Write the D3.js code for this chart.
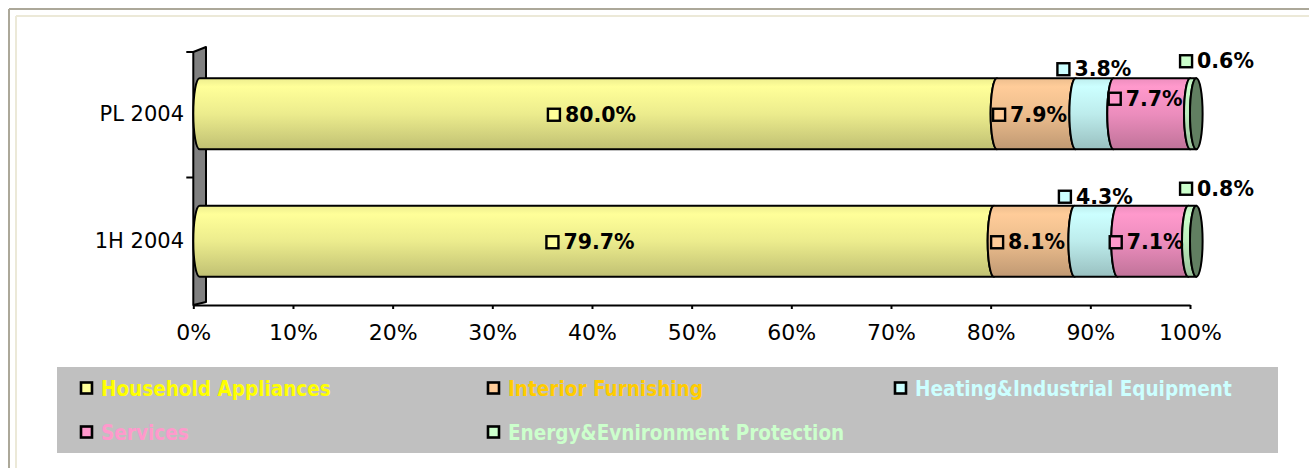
<!DOCTYPE html>
<html><head><meta charset="utf-8">
<script src="https://cdn.jsdelivr.net/npm/d3@7"></script>
<style>
html,body{margin:0;padding:0;background:#fff;}
svg{display:block;}
</style></head>
<body>
<svg id="chart" width="1309" height="468"></svg>
<script>
// ---- data ----
const categories = ["PL 2004", "1H 2004"];
const seriesNames = ["Household Appliances", "Interior Furnishing", "Heating&Industrial Equipment", "Services", "Energy&Evnironment Protection"];
const household = [80.0, 79.7];
const interior = [7.9, 8.1];
const heating = [3.8, 4.3];
const services = [7.7, 7.1];
const energy = [0.6, 0.8];
const xTicks = [0, 10, 20, 30, 40, 50, 60, 70, 80, 90, 100];
const seriesColors = ["#FFFF99", "#FFCC99", "#CCFFFF", "#FF99CC", "#CCFFCC"];
const legendTextColors = ["#FFFF00", "#FFCC00", "#CCFFFF", "#FF99CC", "#CCFFCC"];

const seriesValues = [household, interior, heating, services, energy];

const svg = d3.select("#chart");
const defs = svg.append("defs");

// frame
svg.append("line").attr("x1", 9).attr("y1", 9).attr("x2", 1309).attr("y2", 9).attr("stroke", "#ACA899").attr("stroke-width", 2);
svg.append("line").attr("x1", 9).attr("y1", 9).attr("x2", 9).attr("y2", 468).attr("stroke", "#ACA899").attr("stroke-width", 2);
svg.append("line").attr("x1", 16).attr("y1", 16).attr("x2", 1309).attr("y2", 16).attr("stroke", "#ECE9D8").attr("stroke-width", 2);
svg.append("line").attr("x1", 16).attr("y1", 16).attr("x2", 16).attr("y2", 468).attr("stroke", "#ECE9D8").attr("stroke-width", 2);

const x = d3.scaleLinear().domain([0, 100]).range([193.3, 1190]);
const y = d3.scaleBand().domain(categories).range([50, 305]).paddingInner(0.443).paddingOuter(0.2215);

// gradients
seriesColors.forEach((c, i) => {
  const g = defs.append("linearGradient").attr("id", "grad" + i)
    .attr("x1", 0).attr("y1", 0).attr("x2", 0).attr("y2", 1);
  const col = d3.color(c);
  [[0, col.darker(0.2)], [0.12, col], [0.5, col.darker(0.22)], [1, col.darker(0.8)]].forEach(([o, cc]) => {
    g.append("stop").attr("offset", o).attr("stop-color", cc.formatHex());
  });
});

// wall
const wallTop = 52, wallBot = 305, depth = 12.7;
svg.append("path")
  .attr("d", `M${x(0)},${wallTop} L${x(0)+depth},${wallTop-5} L${x(0)+depth},${wallBot-3} L${x(0)},${wallBot} Z`)
  .attr("fill", "#808080").attr("stroke", "#000").attr("stroke-width", 2).attr("stroke-linejoin", "round");

// y ticks at band boundaries
const boundaries = [wallTop, (y(categories[0]) + y.bandwidth() + y(categories[1])) / 2];
boundaries.forEach(b => {
  svg.append("line").attr("x1", x(0) - 7).attr("x2", x(0)).attr("y1", b).attr("y2", b)
    .attr("stroke", "#000").attr("stroke-width", 2);
});

// x axis
const xAxis = d3.axisBottom(x).tickValues(xTicks).tickFormat(d => d + "%").tickSizeInner(4).tickSizeOuter(0);
const gx = svg.append("g").attr("transform", `translate(0,${wallBot})`).call(xAxis);
gx.select(".domain").attr("stroke", "#000").attr("stroke-width", 2);
gx.selectAll(".tick line").attr("stroke", "#000").attr("stroke-width", 2);
gx.selectAll(".tick text").attr("font-family", "DejaVu Sans, Verdana, sans-serif").attr("font-size", 22)
  .attr("fill", "#000").attr("dy", 0).attr("y", 35);

// y labels
svg.selectAll(".ylab").data(categories).enter().append("text")
  .attr("x", 184).attr("y", d => y(d) + y.bandwidth() / 2)
  .attr("text-anchor", "end").attr("dominant-baseline", "central")
  .attr("font-family", "DejaVu Sans, Verdana, sans-serif").attr("font-size", 21).attr("fill", "#000")
  .text(d => d);

// bars
const r = 6.3;
const labelFont = "DejaVu Sans, Verdana, sans-serif";
categories.forEach((cat, ci) => {
  const top = y(cat), h = y.bandwidth(), bot = top + h, mid = top + h / 2, ry = h / 2;
  let cum = 0;
  const segs = seriesValues.map((vals, si) => {
    const v = vals[ci];
    const s = { si, v, a: cum, b: cum + v };
    cum += v;
    return s;
  });
  const g = svg.append("g");
  segs.forEach(s => {
    const a = x(s.a), b = x(s.b);
    const d = `M${a + r},${top} L${b + r},${top} A${r},${ry} 0 0 0 ${b + r},${bot} L${a + r},${bot} A${r},${ry} 0 0 1 ${a + r},${top} Z`;
    g.append("path").attr("d", d).attr("fill", `url(#grad${s.si})`)
      .attr("stroke", "#000").attr("stroke-width", 2).attr("stroke-linejoin", "round");
  });
  // end cap
  g.append("ellipse").attr("cx", x(cum) + r).attr("cy", mid).attr("rx", r).attr("ry", ry)
    .attr("fill", "#617F61").attr("stroke", "#000").attr("stroke-width", 2);

  // labels
  segs.forEach(s => {
    let cx = (x(s.a) + x(s.b)) / 2, cy = mid;
    if (s.si === 2) { cx += 6; cy = top - 10; }
    if (s.si === 4) { cx = x(100) + 27; cy = top - 18; }
    if (s.si === 3 && ci === 0) { cy = mid - 16; }
    const lg = svg.append("g");
    const t = lg.append("text").attr("font-family", labelFont).attr("font-weight", "bold").attr("font-size", 20.5)
      .attr("fill", "#000").attr("dominant-baseline", "central").text(d3.format(".1f")(s.v) + "%");
    const tw = t.node().getComputedTextLength();
    const sq = 12, gap = 5, total = sq + gap + tw;
    const x0 = cx - total / 2;
    lg.append("rect").attr("x", x0).attr("y", cy - sq / 2 + 1).attr("width", sq).attr("height", sq)
      .attr("fill", seriesColors[s.si]).attr("stroke", "#000").attr("stroke-width", 2.4);
    t.attr("x", x0 + sq + gap).attr("y", cy + 1);
  });
});

// legend
svg.append("rect").attr("x", 57).attr("y", 367).attr("width", 1221).attr("height", 86).attr("fill", "#C0C0C0");
const legendPos = [[80, 388], [487, 388], [894, 388], [80, 432], [487, 432]];
seriesNames.forEach((n, i) => {
  const [lx, ly] = legendPos[i];
  svg.append("rect").attr("x", lx + 1).attr("y", ly - 5.5).attr("width", 11).attr("height", 11)
    .attr("fill", seriesColors[i]).attr("stroke", "#000").attr("stroke-width", 2.6);
  svg.append("text").attr("x", lx + 21).attr("y", ly + 1).attr("dominant-baseline", "central")
    .attr("font-family", "DejaVu Sans Condensed, DejaVu Sans, sans-serif").attr("font-weight", "bold")
    .attr("font-size", 20.5).attr("fill", legendTextColors[i]).text(n);
});
</script>
</body></html>
